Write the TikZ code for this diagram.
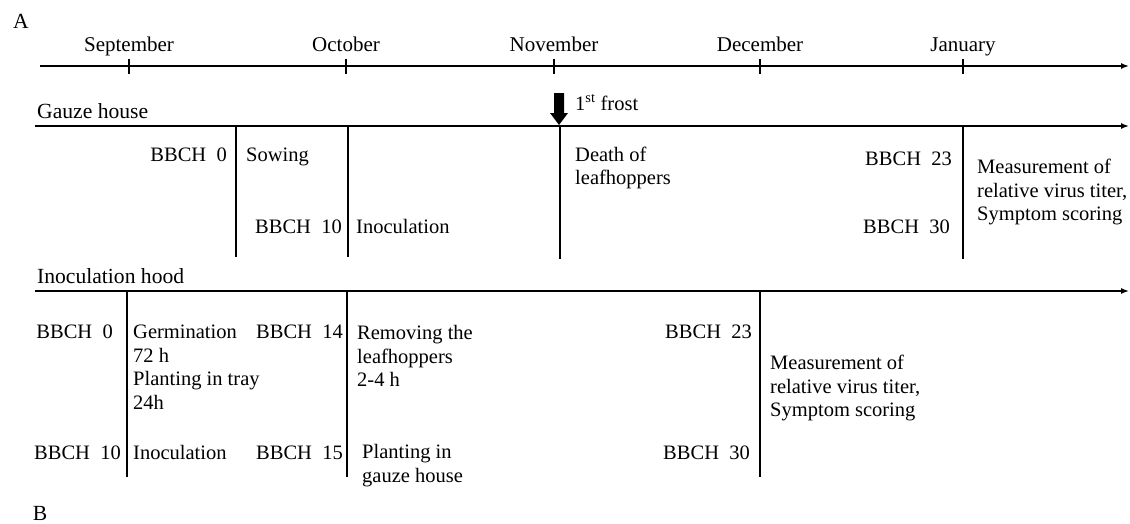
\documentclass[tikz,border=0pt]{standalone}
\usepackage{fontspec}
\setmainfont{Liberation Serif}
\usetikzlibrary{arrows.meta}
\tikzset{
  txt/.style={inner sep=0pt,font=\fontsize{20.5}{23.5}\selectfont,align=left},
  big/.style={txt,font=\fontsize{21.6}{24}\selectfont},
  lane/.style={line width=1.4pt,-{Latex[length=8pt,width=6pt]}},
  divider/.style={line width=1.4pt},
}
\begin{document}
\begin{tikzpicture}[x=1pt,y=-1pt,line cap=butt,line join=miter]
  \useasboundingbox (0,0) rectangle (1130,523);
  % panel letters
  \node[big] (panA) at (21,21) {A};
  \node[big] (panB) at (40,513) {B};
  % month axis
  \coordinate (mstart) at (40,66);
  \coordinate (mend) at (1129,66);
  \draw[lane] (mstart) -- (mend);
  \foreach \x/\m/\nm in {129/September/sep,346/October/oct,554/November/nov,760/December/dec,963/January/jan}{
    \draw[divider] (\x,59) -- (\x,74);
    \node[txt,font=\fontsize{21}{24}\selectfont,anchor=base] (\nm) at (\x,51) {\m};
  }
  % gauze house lane
  \node[big,anchor=base west] (gauze) at (37,118) {Gauze house};
  \coordinate (gstart) at (35,126);
  \coordinate (gend) at (1129,126);
  \draw[lane] (gstart) -- (gend);
  \foreach \x/\y in {236/257,348/257,560/259,963/259}
    \draw[divider] (\x,126) -- (\x,\y);
  % first frost
  \coordinate (frost) at (559,125);
  \fill ([xshift=-5pt]frost) ++(0,-32) -- ++(10,0) -- ++(0,20) -- ++(4,0)
    -- (frost) -- ++(-9,-12) -- ++(4,0) -- cycle;
  \node[txt,anchor=base west] (frostlbl) at (575,110) {1\textsuperscript{st} frost};
  \node[txt,anchor=base east] (g0) at (227,161) {BBCH~ 0};
  \node[txt,anchor=base west] (sow) at (246,161) {Sowing};
  \node[txt,anchor=base east] (g10) at (342,233) {BBCH~ 10};
  \node[txt,anchor=base west] (ginoc) at (356,233) {Inoculation};
  \node[txt,anchor=west] (death) at (575,168) {Death of\\leafhoppers};
  \node[txt,anchor=base east] (g23) at (952,165) {BBCH~ 23};
  \node[txt,anchor=base east] (g30) at (950,233) {BBCH~ 30};
  \node[txt,anchor=west] (gmeas) at (977,192) {Measurement of\\relative virus titer,\\Symptom scoring};
  % inoculation hood lane
  \node[big,anchor=base west] (hood) at (37,283) {Inoculation hood};
  \coordinate (hstart) at (35,291);
  \coordinate (hend) at (1129,291);
  \draw[lane] (hstart) -- (hend);
  \foreach \x in {127,347,760}
    \draw[divider] (\x,291) -- (\x,477);
  \node[txt,anchor=base east] (h0) at (113,338) {BBCH~ 0};
  \node[txt,anchor=west] (germ) at (133,367) {Germination\\72 h\\Planting in tray\\24h};
  \node[txt,anchor=base east] (h14) at (343,338) {BBCH~ 14};
  \node[txt,anchor=west] (remove) at (357,356) {Removing the\\leafhoppers\\2-4 h};
  \node[txt,anchor=base east] (h10) at (121,459) {BBCH~ 10};
  \node[txt,anchor=base west] (hinoc) at (133,459) {Inoculation};
  \node[txt,anchor=base east] (h15) at (343,459) {BBCH~ 15};
  \node[txt,anchor=west] (plant) at (362,465.5) {Planting in\\gauze house};
  \node[txt,anchor=base east] (h23) at (752,338) {BBCH~ 23};
  \node[txt,anchor=base east] (h30) at (750,459) {BBCH~ 30};
  \node[txt,anchor=west] (hmeas) at (770,388) {Measurement of\\relative virus titer,\\Symptom scoring};
\end{tikzpicture}
\end{document}
